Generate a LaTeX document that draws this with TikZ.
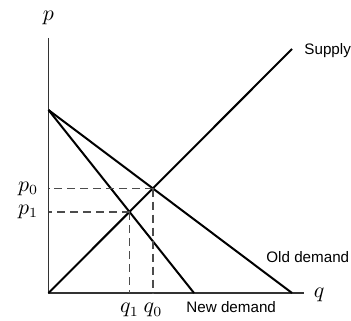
\documentclass[tikz,border=0pt]{standalone}
\usepackage{fontspec}
\setsansfont{Liberation Sans}
\usetikzlibrary{positioning}
\tikzset{
  axisline/.style={
    line width=0.6pt,
    draw=black!80
  },
  curve/.style={
    line width=1pt
  },
  guide/.style={
    line width=0.55pt,
    draw=black!70,
    dash pattern=on 4pt off 2.5pt
  },
  curvelabel/.style={
    font=\sffamily\fontsize{7.6}{9}\selectfont,
    inner sep=0pt
  },
  axislabel/.style={
    font=\fontsize{10.5}{12}\selectfont,
    inner sep=0pt
  },
  every picture/.style = {
    x=0.5pt,
    y=0.5pt
  }
}
\begin{document}
\begin{tikzpicture}
            \useasboundingbox (-48.5,-27) rectangle (302.5,293);
            % axes
            \coordinate (O) at (0,0);
            \coordinate (ptop) at (0,255);
            \coordinate (qend) at (255,0);
            \draw[axisline] (ptop) -- (O) -- (qend);
            \node[axislabel,above=6.5pt of ptop] (plabel) {$p$};
            \node[axislabel,right=5pt of qend,yshift=-1] (qlabel) {$q$};
            % supply and demand
            \coordinate (A) at (0,183);
            \coordinate (S) at (243.5,244);
            \coordinate (Dold) at (243.5,0);
            \coordinate (Dnew) at (145.5,0);
            \draw[curve] (O) -- (S);
            \draw[curve] (A) -- (Dold);
            \draw[curve] (A) -- (Dnew);
            \node[curvelabel,right=6pt of S,yshift=-1] (slabel) {Supply};
            \node[curvelabel,anchor=west] (oldlabel) at (217.5,35.5) {Old demand};
            \node[curvelabel,anchor=west] (newlabel) at (137.5,-14.5) {New demand};
            % equilibria
            \coordinate (E0) at (104.5,104.5);
            \coordinate (E1) at (81,81);
            \foreach \e/\i in {E0/0,E1/1}{
                    \coordinate (P\i) at (\e -| O);
                    \coordinate (Q\i) at (\e |- O);
                    \draw[guide] (\e) -- (P\i);
                    \draw[guide] (\e) -- (Q\i);
                    \node[axislabel,left=5pt of P\i] (p\i) {$p_\i$};
                    \node[axislabel,below=5pt of Q\i] (q\i) {$q_\i$};
                }
        \end{tikzpicture}
\end{document}
